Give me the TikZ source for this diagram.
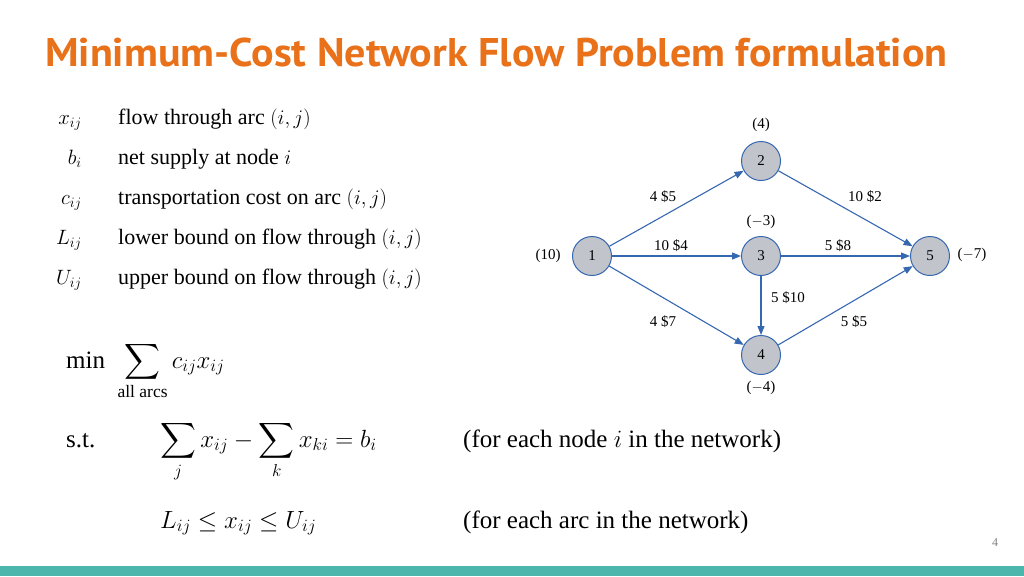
\documentclass[tikz,border=0pt]{standalone}
\usepackage{amsmath}
\usepackage{exscale}
\usepackage{fontspec}
\setmainfont{Liberation Serif}
\newfontfamily\titlefont{PT Sans}
\usetikzlibrary{arrows.meta}
\definecolor{ttl}{HTML}{E8711A}
\definecolor{nfill}{HTML}{C2C4CC}
\definecolor{nline}{HTML}{3568B0}
\definecolor{bar}{HTML}{4DB6AC}
\begin{document}
\begin{tikzpicture}[x=1pt,y=-1pt,
  nd/.style={circle,draw=nline,fill=nfill,line width=1pt,minimum size=39pt,inner sep=0pt,font=\fontsize{15}{15}\selectfont},
  arc/.style={draw=nline,line width=1.1pt,-{Triangle[length=9pt,width=7pt]}},
  lb/.style={font=\fontsize{15}{15}\selectfont,inner sep=1pt},
  lst/.style={font=\fontsize{22}{22}\selectfont,anchor=base west,inner sep=0pt},
  sym/.style={font=\fontsize{22}{22}\selectfont,anchor=base east,inner sep=0pt},
  eq/.style={font=\fontsize{25}{25}\selectfont,anchor=base west,inner sep=0pt}]
\useasboundingbox (0,0) rectangle (1024,576);
\fill[white] (0,0) rectangle (1024,576);
\fill[bar] (0,566) rectangle (1024,576);
\node[anchor=base west,inner sep=0pt,text=ttl,font=\titlefont\bfseries\fontsize{40}{40}\selectfont,xscale=1.05] (title) at (45,66) {Minimum-Cost Network Flow Problem formulation};
% definitions
\node[sym] (s1) at (82,124) {$x_{ij}$};
\node[lst] (t1) at (118,124) {flow through arc $(i,j)$};
\node[sym] (s2) at (82,164) {$b_i$};
\node[lst] (t2) at (118,164) {net supply at node $i$};
\node[sym] (s3) at (82,204) {$c_{ij}$};
\node[lst] (t3) at (118,204) {transportation cost on arc $(i,j)$};
\node[sym] (s4) at (82,244) {$L_{ij}$};
\node[lst] (t4) at (118,244) {lower bound on flow through $(i,j)$};
\node[sym] (s5) at (82,284) {$U_{ij}$};
\node[lst] (t5) at (118,284) {upper bound on flow through $(i,j)$};
% formulation
\node[eq] (mn) at (66,368) {min\enspace$\displaystyle\sum_{\text{all arcs}} c_{ij}x_{ij}$};
\node[eq] (st) at (66,447) {s.t.};
\node[eq] (cons) at (160,447) {$\displaystyle\sum_j x_{ij} - \sum_k x_{ki} = b_i$};
\node[eq] (c1) at (463,447) {(for each node $i$ in the network)};
\node[eq] (bnd) at (160,528) {$L_{ij} \le x_{ij} \le U_{ij}$};
\node[eq] (c2) at (463,528) {(for each arc in the network)};
\node[text=gray,font=\fontsize{12}{12}\selectfont] (pg) at (995,543) {4};
% network
\node[nd] (n1) at (592,256) {1};
\node[nd] (n2) at (761,161) {2};
\node[nd] (n3) at (761,256) {3};
\node[nd] (n4) at (761,355) {4};
\node[nd] (n5) at (930,256) {5};
\node[lb] (b1) at (548,256) {(10)};
\node[lb] (b2) at (761,125) {(4)};
\node[lb] (b3) at (761,222) {($-$3)};
\node[lb] (b4) at (761,388) {($-$4)};
\node[lb] (b5) at (972,255) {($-$7)};
\draw[arc] (n1) -- (n2);
\draw[arc] (n1) -- (n3);
\draw[arc] (n1) -- (n4);
\draw[arc] (n2) -- (n5);
\draw[arc] (n3) -- (n5);
\draw[arc] (n3) -- (n4);
\draw[arc] (n4) -- (n5);
\node[lb] (l12) at (663,197) {4 \$5};
\node[lb] (l13) at (671,246) {10 \$4};
\node[lb] (l14) at (663,322) {4 \$7};
\node[lb] (l25) at (865,197) {10 \$2};
\node[lb] (l35) at (838,246) {5 \$8};
\node[lb] (l34) at (788,298) {5 \$10};
\node[lb] (l45) at (854,322) {5 \$5};
\end{tikzpicture}
\end{document}
